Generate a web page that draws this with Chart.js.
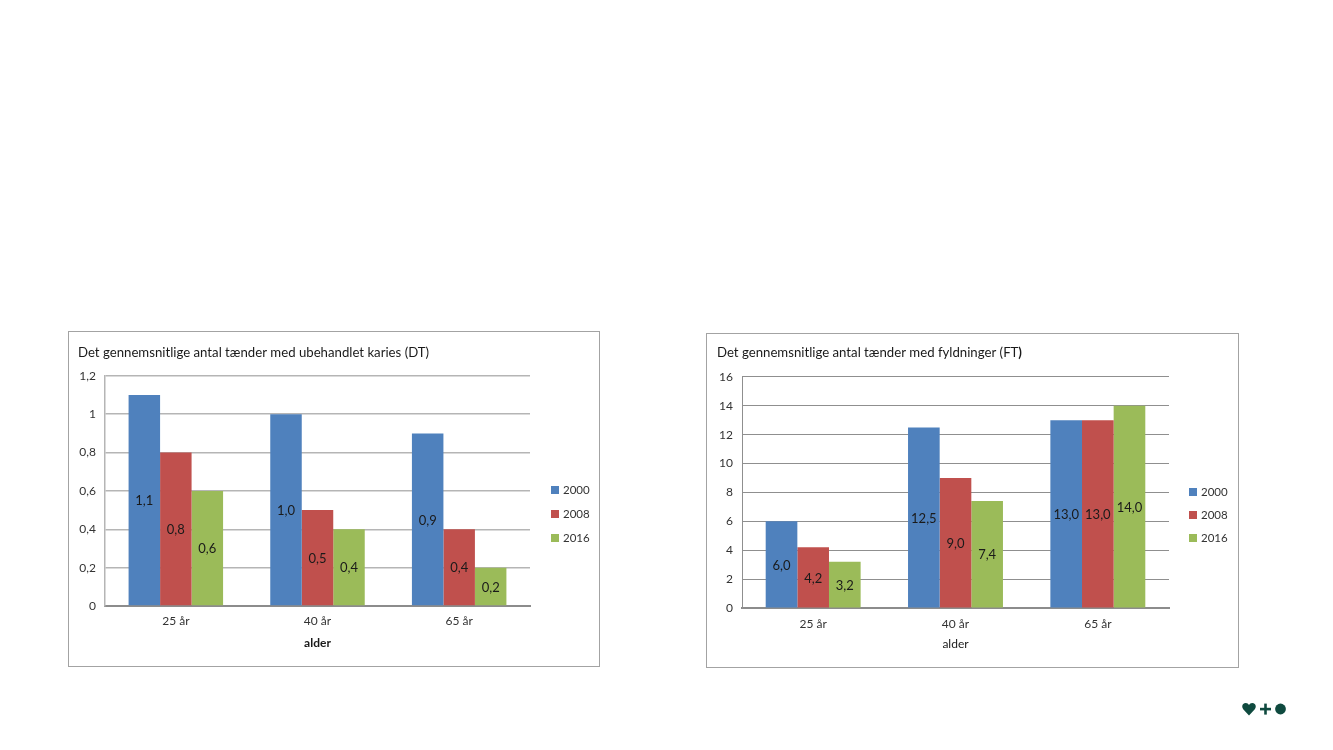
<!DOCTYPE html>
<html>
<head>
<meta charset="utf-8">
<script src="https://cdn.jsdelivr.net/npm/chart.js@4"></script>
<style>
  html, body { margin: 0; background: #fff; }
  canvas { position: absolute; outline: 1.5px solid #a3a3a3; outline-offset: -1px; }
  #c1 { left: 68px; top: 331px; }
  #c2 { left: 706px; top: 333px; }
  #logo { position: absolute; left: 1242px; top: 702px; }
</style>
</head>
<body>
<canvas id="c1" width="532" height="336"></canvas>
<canvas id="c2" width="533" height="335"></canvas>
<svg id="logo" width="46" height="14" viewBox="0 0 46 14">
  <path d="M7 13.4 L1.2 7.2 C-1 4.2 0.8 1 3.8 1 C5.2 1 6.3 1.8 7 3 C7.7 1.8 8.8 1 10.2 1 C13.2 1 15 4.2 12.8 7.2 Z" fill="#0f4a3f"/>
  <rect x="18" y="5.8" width="11" height="2.6" fill="#0f4a3f"/>
  <rect x="22.2" y="1.6" width="2.6" height="11" fill="#0f4a3f"/>
  <circle cx="38.5" cy="7" r="5.4" fill="#0f4a3f"/>
</svg>

<script>
const categories = ['25 år', '40 år', '65 år'];
const years = ['2000', '2008', '2016'];
const colors = ['#4f81bd', '#c0504d', '#9bbb59'];

// DT
const dt2000 = [1.1, 1.0, 0.9];
const dt2008 = [0.8, 0.5, 0.4];
const dt2016 = [0.6, 0.4, 0.2];
// FT
const ft2000 = [6.0, 12.5, 13.0];
const ft2008 = [4.2, 9.0, 13.0];
const ft2016 = [3.2, 7.4, 14.0];

const FONT = 'Lato';
const TITLE_SIZE = 13.2;
Chart.defaults.animation = false;
Chart.defaults.font.family = FONT;

// valeurs au milieu des barres + legende a la main
const labelsPlugin = {
    id: 'labelsPlugin',
    afterDatasetsDraw(chart, args, opts) {
        const ctx = chart.ctx;
        ctx.save();
        ctx.font = '13px ' + FONT;
        ctx.textAlign = 'center';
        ctx.textBaseline = 'middle';
        ctx.fillStyle = '#1a1a1a';
        chart.data.datasets.forEach((dataset, i) => {
            chart.getDatasetMeta(i).data.forEach((bar, index) => {
                const txt = dataset.data[index].toFixed(1).replace('.', ',');
                ctx.fillText(txt, bar.x, (bar.y + bar.base) / 2 + 1);
            });
        });
        // legende
        ctx.textAlign = 'left';
        ctx.font = '11.5px ' + FONT;
        chart.data.datasets.forEach((dataset, i) => {
            const y = opts.legendY + i * opts.legendStep;
            ctx.fillStyle = dataset.backgroundColor;
            ctx.fillRect(opts.legendX, y - 4, 8, 8);
            ctx.fillStyle = '#333';
            ctx.fillText(dataset.label, opts.legendX + 12, y);
        });
        // parenthese en gras du titre
        if (opts.boldEnd) {
            ctx.font = TITLE_SIZE + 'px ' + FONT;
            const w = ctx.measureText(chart.options.plugins.title.text).width;
            ctx.font = 'bold ' + TITLE_SIZE + 'px ' + FONT;
            ctx.fillStyle = '#1a1a1a';
            ctx.fillText(opts.boldEnd, opts.titleX + w, opts.titleY);
        }
        ctx.restore();
    }
};

function makeChart(id, title, s1, s2, s3, yMax, yStep, cfg) {
    return new Chart(document.getElementById(id), {
        type: 'bar',
        plugins: [labelsPlugin],
        data: {
            labels: categories,
            datasets: [
                { label: years[0], data: s1, backgroundColor: colors[0] },
                { label: years[1], data: s2, backgroundColor: colors[1] },
                { label: years[2], data: s3, backgroundColor: colors[2] }
            ]
        },
        options: {
            responsive: false,
            devicePixelRatio: 1,
            layout: { padding: { left: cfg.left, right: cfg.right, top: 0, bottom: 0 } },
            datasets: { bar: { categoryPercentage: 0.667, barPercentage: 1 } },
            plugins: {
                legend: { display: false },
                tooltip: { enabled: false },
                title: {
                    display: true,
                    text: title,
                    align: 'start',
                    color: '#1a1a1a',
                    font: { size: TITLE_SIZE, weight: 'normal' },
                    padding: { top: cfg.titleTop, bottom: cfg.titleBottom }
                },
                labelsPlugin: {
                    legendX: cfg.legendX,
                    legendY: cfg.legendY,
                    legendStep: cfg.legendStep,
                    boldEnd: cfg.boldEnd,
                    titleX: cfg.left,
                    titleY: cfg.titleTop + 8
                }
            },
            scales: {
                x: {
                    grid: { display: false, drawTicks: false },
                    border: { color: cfg.axisColor, width: 2 },
                    ticks: { color: '#333', font: { size: 12 }, padding: cfg.xPad },
                    title: {
                        display: true,
                        text: 'alder',
                        color: '#1a1a1a',
                        font: { size: 12, weight: cfg.xBold ? 'bold' : 'normal' },
                        padding: { top: 0, bottom: 17 }
                    },
                    afterFit: (scale) => { scale.height = cfg.bottom; }
                },
                y: {
                    min: 0,
                    max: yMax,
                    ticks: {
                        stepSize: yStep,
                        color: '#333',
                        font: { size: 12 },
                        padding: 9,
                        callback: (v) => String(Math.round(v * 10) / 10).replace('.', ',')
                    },
                    grid: { color: cfg.gridColor, lineWidth: cfg.gridWidth, drawTicks: false },
                    border: { color: cfg.gridColor, width: cfg.gridWidth },
                    afterFit: (scale) => { scale.width = cfg.yWidth; }
                }
            }
        }
    });
}

makeChart('c1', 'Det gennemsnitlige antal tænder med ubehandlet karies (DT)',
    dt2000, dt2008, dt2016, 1.2, 0.2,
    { left: 10, right: 70, bottom: 61, titleTop: 14, titleBottom: 15, yWidth: 27, xPad: 8, legendX: 483, legendY: 159, legendStep: 24,
      axisColor: '#8c8c8c', gridColor: '#b5b5b5', gridWidth: 1.5, xBold: true });

makeChart('c2', 'Det gennemsnitlige antal tænder med fyldninger (FT',
    ft2000, ft2008, ft2016, 16, 2,
    { left: 11, right: 70, bottom: 60, titleTop: 12, titleBottom: 16, yWidth: 25, xPad: 9, legendX: 483, legendY: 159, legendStep: 23,
      axisColor: '#8c8c8c', gridColor: '#8f8f8f', gridWidth: 1, xBold: false, boldEnd: ')' });
</script>
</body>
</html>
